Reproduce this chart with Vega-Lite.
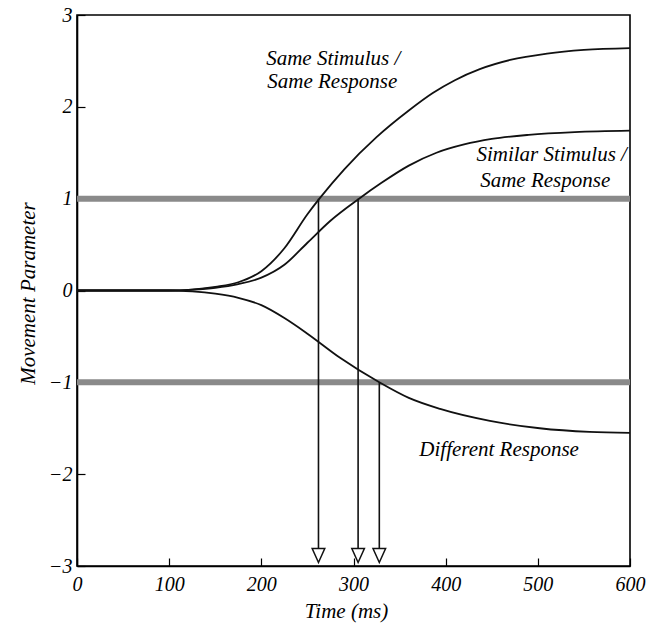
{
  "$schema": "https://vega.github.io/schema/vega-lite/v6.json",
  "width": 553,
  "height": 551,
  "autosize": {"type": "none"},
  "padding": {"left": 77, "top": 15, "right": 20, "bottom": 58},
  "background": "#ffffff",
  "config": {
    "view": {"stroke": "#000000", "strokeWidth": 1.6},
    "axis": {
      "labelFont": "Liberation Serif",
      "labelFontStyle": "italic",
      "labelFontSize": 20,
      "labelColor": "#000000",
      "labelFlush": false,
      "titleFont": "Liberation Serif",
      "titleFontStyle": "italic",
      "titleFontWeight": "normal",
      "titleFontSize": 21,
      "titleColor": "#000000",
      "domainColor": "#000000",
      "domainWidth": 1.6,
      "tickColor": "#000000",
      "tickWidth": 1.2,
      "tickSize": -8,
      "grid": false
    }
  },
  "datasets": {
    "curves": [
      {"curve": "Same Stimulus / Same Response", "t": 0, "v": 0},
      {"curve": "Same Stimulus / Same Response", "t": 100, "v": 0},
      {"curve": "Same Stimulus / Same Response", "t": 125, "v": 0.01},
      {"curve": "Same Stimulus / Same Response", "t": 150, "v": 0.04},
      {"curve": "Same Stimulus / Same Response", "t": 175, "v": 0.09},
      {"curve": "Same Stimulus / Same Response", "t": 200, "v": 0.21},
      {"curve": "Same Stimulus / Same Response", "t": 225, "v": 0.46},
      {"curve": "Same Stimulus / Same Response", "t": 250, "v": 0.83},
      {"curve": "Same Stimulus / Same Response", "t": 263, "v": 1.0},
      {"curve": "Same Stimulus / Same Response", "t": 290, "v": 1.32},
      {"curve": "Same Stimulus / Same Response", "t": 325, "v": 1.67},
      {"curve": "Same Stimulus / Same Response", "t": 360, "v": 1.96},
      {"curve": "Same Stimulus / Same Response", "t": 386, "v": 2.15},
      {"curve": "Same Stimulus / Same Response", "t": 410, "v": 2.29},
      {"curve": "Same Stimulus / Same Response", "t": 437, "v": 2.41},
      {"curve": "Same Stimulus / Same Response", "t": 470, "v": 2.51},
      {"curve": "Same Stimulus / Same Response", "t": 510, "v": 2.58},
      {"curve": "Same Stimulus / Same Response", "t": 550, "v": 2.62},
      {"curve": "Same Stimulus / Same Response", "t": 600, "v": 2.64},
      {"curve": "Similar Stimulus / Same Response", "t": 0, "v": 0},
      {"curve": "Similar Stimulus / Same Response", "t": 100, "v": 0},
      {"curve": "Similar Stimulus / Same Response", "t": 125, "v": 0.01},
      {"curve": "Similar Stimulus / Same Response", "t": 150, "v": 0.03},
      {"curve": "Similar Stimulus / Same Response", "t": 175, "v": 0.07},
      {"curve": "Similar Stimulus / Same Response", "t": 200, "v": 0.14},
      {"curve": "Similar Stimulus / Same Response", "t": 225, "v": 0.28},
      {"curve": "Similar Stimulus / Same Response", "t": 250, "v": 0.52},
      {"curve": "Similar Stimulus / Same Response", "t": 275, "v": 0.76},
      {"curve": "Similar Stimulus / Same Response", "t": 306, "v": 1.0},
      {"curve": "Similar Stimulus / Same Response", "t": 330, "v": 1.17},
      {"curve": "Similar Stimulus / Same Response", "t": 360, "v": 1.36},
      {"curve": "Similar Stimulus / Same Response", "t": 390, "v": 1.5},
      {"curve": "Similar Stimulus / Same Response", "t": 420, "v": 1.59},
      {"curve": "Similar Stimulus / Same Response", "t": 450, "v": 1.65},
      {"curve": "Similar Stimulus / Same Response", "t": 490, "v": 1.695},
      {"curve": "Similar Stimulus / Same Response", "t": 540, "v": 1.725},
      {"curve": "Similar Stimulus / Same Response", "t": 600, "v": 1.74},
      {"curve": "Different Response", "t": 0, "v": 0},
      {"curve": "Different Response", "t": 100, "v": 0},
      {"curve": "Different Response", "t": 125, "v": -0.01},
      {"curve": "Different Response", "t": 150, "v": -0.035},
      {"curve": "Different Response", "t": 175, "v": -0.08},
      {"curve": "Different Response", "t": 200, "v": -0.16},
      {"curve": "Different Response", "t": 225, "v": -0.3},
      {"curve": "Different Response", "t": 250, "v": -0.47},
      {"curve": "Different Response", "t": 285, "v": -0.73},
      {"curve": "Different Response", "t": 328, "v": -1.0},
      {"curve": "Different Response", "t": 360, "v": -1.17},
      {"curve": "Different Response", "t": 394, "v": -1.29},
      {"curve": "Different Response", "t": 448, "v": -1.42},
      {"curve": "Different Response", "t": 502, "v": -1.5},
      {"curve": "Different Response", "t": 556, "v": -1.54},
      {"curve": "Different Response", "t": 600, "v": -1.55}
    ],
    "thresholds": [{"v": 1}, {"v": -1}],
    "arrows": [
      {"t": 262, "from": 1},
      {"t": 305, "from": 1},
      {"t": 328, "from": -1}
    ],
    "notes": [
      {"t": 278, "v": 2.46, "text": "Same Stimulus /"},
      {"t": 277, "v": 2.2, "text": "Same Response"},
      {"t": 515, "v": 1.41, "text": "Similar Stimulus /"},
      {"t": 508, "v": 1.125, "text": "Same Response"},
      {"t": 458, "v": -1.8, "text": "Different Response"}
    ]
  },
  "layer": [
    {
      "data": {"name": "thresholds"},
      "mark": {"type": "rule", "color": "#8a8a8a", "strokeWidth": 6},
      "encoding": {
        "y": {"field": "v", "type": "quantitative", "scale": {"domain": [-3, 3], "nice": false}}
      }
    },
    {
      "data": {"name": "curves"},
      "mark": {"type": "line", "interpolate": "monotone", "color": "#111111", "strokeWidth": 1.8},
      "encoding": {
        "x": {
          "field": "t", "type": "quantitative",
          "scale": {"domain": [0, 600], "nice": false},
          "axis": {"values": [0, 100, 200, 300, 400, 500, 600], "format": "d", "title": "Time (ms)", "labelPadding": 16, "titleX": 269, "titleY": 51, "titleBaseline": "alphabetic", "titleAlign": "center"}
        },
        "y": {
          "field": "v", "type": "quantitative",
          "scale": {"domain": [-3, 3], "nice": false},
          "axis": {"values": [-3, -2, -1, 0, 1, 2, 3], "format": "d", "title": "Movement Parameter", "labelPadding": 13, "titleX": -43, "titleY": 278, "titleBaseline": "alphabetic", "titleAlign": "center", "titleAngle": 270}
        },
        "detail": {"field": "curve"}
      }
    },
    {
      "data": {"name": "arrows"},
      "mark": {"type": "rule", "color": "#111111", "strokeWidth": 1.6},
      "encoding": {
        "x": {"field": "t", "type": "quantitative"},
        "y": {"field": "from", "type": "quantitative"},
        "y2": {"datum": -2.85}
      }
    },
    {
      "data": {"name": "arrows"},
      "mark": {"type": "point", "shape": "M-0.9,-1L0.9,-1L0,1Z", "filled": true, "fill": "#ffffff", "stroke": "#111111", "strokeWidth": 1.5, "size": 196, "opacity": 1},
      "encoding": {
        "x": {"field": "t", "type": "quantitative"},
        "y": {"datum": -2.885}
      }
    },
    {
      "data": {"name": "notes"},
      "mark": {"type": "text", "font": "Liberation Serif", "fontStyle": "italic", "fontSize": 21, "align": "center", "baseline": "alphabetic", "color": "#000000"},
      "encoding": {
        "x": {"field": "t", "type": "quantitative"},
        "y": {"field": "v", "type": "quantitative"},
        "text": {"field": "text"}
      }
    }
  ]
}
